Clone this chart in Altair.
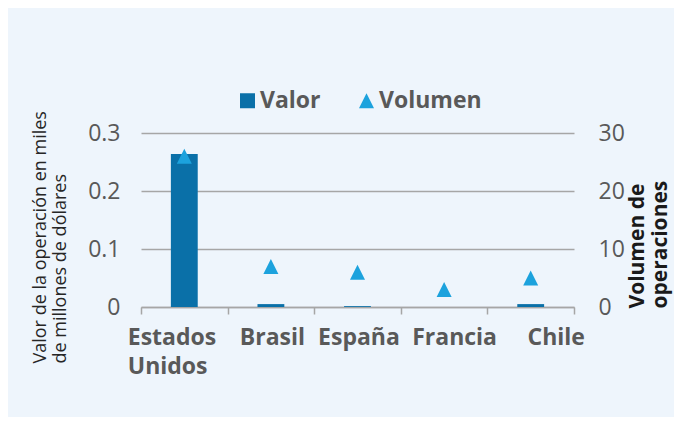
import altair as alt
import pandas as pd

# ---- data ----
paises = ["Estados Unidos", "Brasil", "España", "Francia", "Chile"]
valor = [0.264, 0.005, 0.0015, 0.0, 0.005]      # miles de millones de dólares
volumen = [26, 7, 6, 3, 5]                       # número de operaciones
series = ["Valor", "Volumen"]
ticks_valor = [0, 0.1, 0.2, 0.3]
ticks_volumen = [0, 10, 20, 30]
titulo_izq = ["Valor de la operación en miles", "de millones de dólares"]
titulo_der = ["Volumen de", "operaciones"]

df = pd.DataFrame({"pais": paises, "valor": valor, "volumen": volumen})

BAR = "#0a70a8"
TRI = "#1ca2dd"
GRID = "#a6a6a6"
GRAY = "#595959"
FONT = "Open Sans"
TRIANGLE = "M0,-1L1,1L-1,1Z"

legend = alt.Legend(
    orient="none", legendX=95, legendY=-44, direction="horizontal", title=None,
    labelFont=FONT, labelFontSize=23, labelFontWeight="bold", labelColor=GRAY,
    symbolSize=225, columnPadding=34, labelOffset=1, padding=0,
    symbolStrokeWidth=0,
)

color = alt.Color("serie:N", scale=alt.Scale(domain=series, range=[BAR, TRI]), legend=legend)

x = alt.X(
    "pais:N", sort=paises, title=None,
    scale=alt.Scale(paddingInner=0, paddingOuter=0),
    axis=alt.Axis(
        tickBand="extent", labelAngle=0, labelOverlap=False,
        domainColor=GRID, domainWidth=1.5, tickColor=GRID, tickWidth=1.5, tickSize=7,
        labelFont=FONT, labelFontSize=23, labelFontWeight="bold", labelColor=GRAY,
        labelPadding=12, labelLineHeight=29, labelBaseline="top",
        labelExpr="datum.value == 'Estados Unidos' ? ['Estados', 'Unidos'] : datum.value",
        labelAlign={"condition": {"test": "datum.value == 'Estados Unidos'", "value": "left"}, "value": "center"},
        labelOffset={"condition": [
            {"test": "datum.value == 'Estados Unidos'", "value": -57},
            {"test": "datum.value == 'Francia'", "value": 10},
            {"test": "datum.value == 'Chile'", "value": 25},
        ], "value": 1},
        grid=False,
    ),
)

bars = alt.Chart(df).transform_calculate(serie="'Valor'").mark_bar(
    width={"band": 0.31}
).encode(
    x=x,
    y=alt.Y(
        "valor:Q",
        scale=alt.Scale(domain=[0, 0.3], nice=False),
        axis=alt.Axis(
            values=ticks_valor, grid=True, gridColor=GRID, gridWidth=1.5,
            domain=False, ticks=False, labelPadding=21,
            labelFont=FONT, labelFontSize=23, labelColor=GRAY,
            labelExpr="datum.value == 0 ? '0' : format(datum.value, '.1f')",
            title=titulo_izq, titleFont=FONT, titleFontSize=18, titleFontWeight="normal",
            titleColor="#262626", titleAngle=-90, titleAlign="left", titleBaseline="top",
            titleX=-110, titleY=230, titleLineHeight=20,
        ),
    ),
    color=color,
)

points = alt.Chart(df).transform_calculate(serie="'Volumen'").mark_point(
    filled=True, size=225, opacity=1
).encode(
    x=alt.X("pais:N", sort=paises),
    y=alt.Y(
        "volumen:Q",
        scale=alt.Scale(domain=[0, 30], nice=False),
        axis=alt.Axis(
            orient="right", values=ticks_volumen, grid=False, domain=False, ticks=False,
            labelPadding=24, labelFont=FONT, labelFontSize=23, labelColor=GRAY,
            title=titulo_der, titleFont=FONT, titleFontSize=21, titleFontWeight="bold",
            titleColor="#1a1a1a", titleAngle=-90, titleAlign="left", titleBaseline="top",
            titleX=52, titleY=175, titleLineHeight=23,
        ),
    ),
    color=color,
    shape=alt.Shape("serie:N", scale=alt.Scale(domain=series, range=["square", TRIANGLE]), legend=legend),
)

chart = alt.layer(bars, points).resolve_scale(y="independent").properties(
    width=433, height=174,
    autosize=alt.AutoSizeParams(type="none"),
    padding={"left": 133, "top": 125, "right": 100, "bottom": 110},
    background="#eef5fc",
).configure_view(stroke=None)

chart.save("out.html", embed_options={"renderer": "svg", "actions": False})
